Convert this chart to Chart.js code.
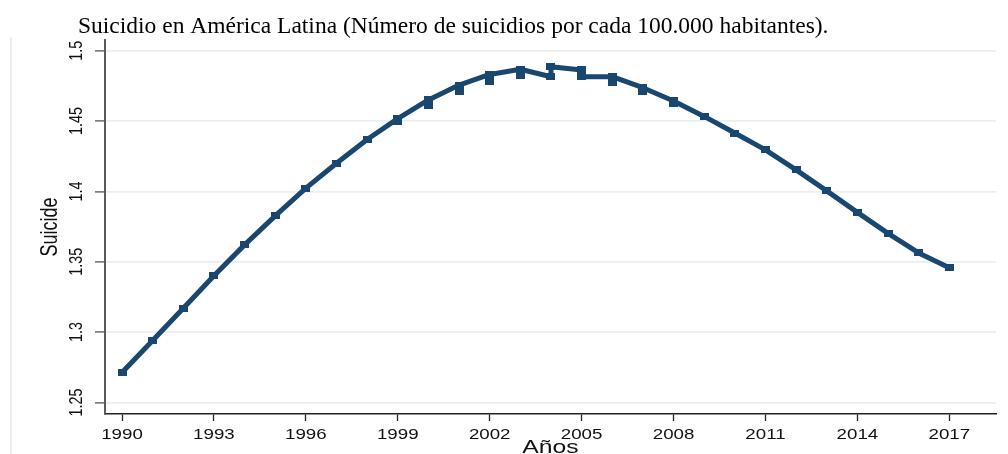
<!DOCTYPE html>
<html>
<head>
<meta charset="utf-8">
<script src="https://cdn.jsdelivr.net/npm/chart.js@4.4.1/dist/chart.umd.min.js"></script>
<style>
  html, body { margin: 0; padding: 0; background: #ffffff; }
  #wrap { width: 1008px; height: 454px; position: relative; }
</style>
</head>
<body>
<div id="wrap"><canvas id="chart"></canvas></div>
<script>
// Suicide rate per 100,000 inhabitants, Latin America
const years = [1990, 1991, 1992, 1993, 1994, 1995, 1996, 1997, 1998, 1999,
               2000, 2001, 2002, 2003, 2004, 2005, 2006, 2007, 2008, 2009,
               2010, 2011, 2012, 2013, 2014, 2015, 2016, 2017];
const suicide = [1.2713, 1.2940, 1.3170, 1.3400, 1.3620, 1.3826, 1.4023, 1.4200, 1.4369, 1.4517,
                 1.4650, 1.4756, 1.4831, 1.4868, 1.4886, 1.4815, 1.4815, 1.4737, 1.4643, 1.4533,
                 1.4415, 1.4295, 1.4153, 1.4004, 1.3851, 1.3702, 1.3563, 1.3457];

// years with an earlier observation that the connecting line passes through first
const leadYears  = [2004, 2005];
const leadValues = [1.4815, 1.4863];

// second observation for some years (markers only)
const extraYears  = [1999, 2000, 2001, 2002, 2003, 2006, 2007, 2008];
const extraValues = [1.4497, 1.4611, 1.4710, 1.4781, 1.4824, 1.4774, 1.4710, 1.4625];

const xTicks = [1990, 1993, 1996, 1999, 2002, 2005, 2008, 2011, 2014, 2017];
const xTickLabels = ['1990', '1993', '1996', '1999', '2002', '2005', '2008', '2011', '2014', '2017'];
const yTicks = [1.25, 1.3, 1.35, 1.4, 1.45, 1.5];
const yTickLabels = ['1.25', '1.3', '1.35', '1.4', '1.45', '1.5'];

const titleText = 'Suicidio en América Latina (Número de suicidios por cada 100.000 habitantes).';
const yTitle = 'Suicide';
const xTitle = 'Años';

const NAVY = '#1a476f';
const GRID = '#e8eff1';
const SX = 1.3;   // horizontal widening of the axis lettering

const linePoints = [];
years.forEach((yr, i) => {
  const k = leadYears.indexOf(yr);
  if (k >= 0) linePoints.push({ x: yr, y: leadValues[k] });
  linePoints.push({ x: yr, y: suicide[i] });
});
const extraPoints = extraYears.map((yr, i) => ({ x: yr, y: extraValues[i] }));

// small filled square marker, slightly wider than tall
function squareMarker(w, h, color) {
  const c = document.createElement('canvas');
  c.width = w; c.height = h;
  const g = c.getContext('2d');
  g.fillStyle = color;
  g.fillRect(0, 0, w, h);
  return c;
}
const marker = squareMarker(9, 7, NAVY);

const labelsPlugin = {
  id: 'axisText',
  beforeDraw(chart) {
    const ctx = chart.ctx;
    ctx.save();
    ctx.strokeStyle = '#e3ebee';
    ctx.lineWidth = 1.5;
    ctx.beginPath();
    ctx.moveTo(11, 37);
    ctx.lineTo(11, 454);
    ctx.stroke();
    ctx.restore();
  },
  afterDraw(chart) {
    const ctx = chart.ctx;
    const xs = chart.scales.x, ys = chart.scales.y;
    const area = chart.chartArea;
    ctx.save();
    ctx.fillStyle = '#111111';
    ctx.textBaseline = 'alphabetic';
    ctx.textAlign = 'center';

    ctx.font = '14.4px "Liberation Sans", Arial, sans-serif';
    xs.ticks.forEach((t, i) => {
      const px = xs.getPixelForValue(t.value);
      ctx.save();
      ctx.translate(px, 439);
      ctx.scale(SX, 1);
      ctx.fillText(xTickLabels[i], 0, 0);
      ctx.restore();
    });
    ys.ticks.forEach((t, i) => {
      const py = ys.getPixelForValue(t.value);
      ctx.save();
      ctx.translate(82, py);
      ctx.scale(SX, 1);
      ctx.rotate(-Math.PI / 2);
      ctx.fillText(yTickLabels[i], 0, 0);
      ctx.restore();
    });

    ctx.font = '18px "Liberation Sans", Arial, sans-serif';
    ctx.save();
    ctx.translate(57, (area.top + area.bottom) / 2);
    ctx.scale(SX, 1);
    ctx.rotate(-Math.PI / 2);
    ctx.fillText(yTitle, 0, 0);
    ctx.restore();

    ctx.font = '19px "Liberation Sans", Arial, sans-serif';
    ctx.save();
    ctx.translate((area.left + area.right) / 2, 453);
    ctx.scale(SX, 1);
    ctx.fillText(xTitle, 0, 0);
    ctx.restore();

    ctx.fillStyle = '#000000';
    ctx.textAlign = 'left';
    ctx.font = '23.5px "Liberation Serif", "Times New Roman", serif';
    ctx.fillText(titleText, 78, 32.5);
    ctx.restore();
  }
};

new Chart(document.getElementById('chart'), {
  type: 'line',
  data: {
    datasets: [
      {
        label: yTitle,
        data: linePoints,
        borderColor: NAVY,
        backgroundColor: NAVY,
        borderWidth: 5,
        tension: 0,
        pointStyle: marker,
        pointRadius: 4,
        borderJoinStyle: 'round',
        order: 1
      },
      {
        label: yTitle + ' (2)',
        data: extraPoints,
        showLine: false,
        borderColor: NAVY,
        backgroundColor: NAVY,
        pointStyle: marker,
        pointRadius: 4,
        order: 2
      }
    ]
  },
  options: {
    responsive: true,
    maintainAspectRatio: false,
    animation: false,
    events: [],
    layout: { padding: { top: 40, right: 12, bottom: 0, left: 0 } },
    plugins: { legend: { display: false }, tooltip: { enabled: false }, title: { display: false } },
    scales: {
      x: {
        type: 'linear',
        min: 1989.445,
        max: 2018.524,
        afterBuildTicks: s => { s.ticks = xTicks.map(v => ({ value: v })); },
        afterFit: s => { s.height = 40; },
        ticks: { display: false },
        grid: { drawOnChartArea: false, drawTicks: true, tickLength: 7, tickColor: '#222222', tickWidth: 1.3 },
        border: { display: true, color: '#222222', width: 1.5 }
      },
      y: {
        type: 'linear',
        min: 1.2418,
        max: 1.5076,
        afterBuildTicks: s => { s.ticks = yTicks.map(v => ({ value: v })); },
        afterFit: s => { s.width = 105; },
        ticks: { display: false },
        grid: { color: GRID, lineWidth: 1.8, drawTicks: true, tickLength: 10, tickColor: '#555555', tickWidth: 1.3 },
        border: { display: true, color: '#5a5a5a', width: 2 }
      }
    }
  },
  plugins: [labelsPlugin]
});
</script>
</body>
</html>
